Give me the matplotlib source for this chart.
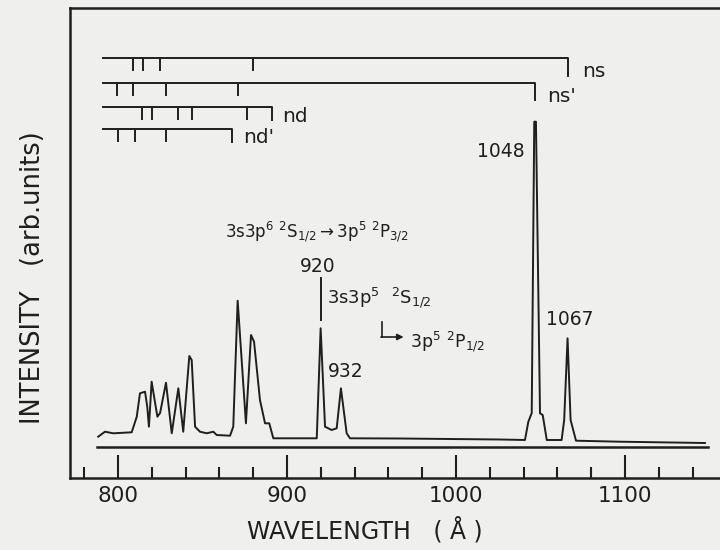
import numpy as np
import matplotlib.pyplot as plt

# spectrum trace (wavelength in A, intensity in arb. units)
wavelength = [788.3, 792.3, 797.2, 808.1, 811.1, 813.0, 816.0, 817.3, 818.3, 819.9,
              823.3, 824.9, 828.4, 831.8, 835.7, 838.6, 842.2, 843.6, 845.6, 848.5,
              852.5, 856.4, 858.4, 866.3, 868.2, 870.8, 875.7, 878.7, 880.5, 884.0,
              887.0, 889.5, 891.9, 917.6, 919.9, 922.5, 926.4, 929.4, 931.9, 935.3,
              937.3, 966.9, 996.4, 1026.0, 1040.8, 1042.8, 1044.8, 1046.3, 1047.3, 1049.7,
              1051.3, 1053.7, 1062.5, 1064.0, 1066.0, 1067.8, 1071.0, 1097.0, 1147.3]
intensity = [41.3, 46.3, 44.7, 45.7, 61.3, 84.7, 86.3, 71.3, 51.3, 96.3,
             61.3, 65.0, 95.3, 44.7, 89.7, 46.3, 122.0, 118.0, 51.3, 46.3,
             44.7, 46.3, 43.0, 42.3, 51.3, 177.3, 54.7, 143.0, 136.3, 78.0,
             54.7, 54.7, 39.7, 39.7, 149.7, 51.3, 48.0, 49.7, 89.7, 44.7,
             39.7, 39.5, 39.0, 38.5, 38.0, 56.3, 65.0, 356.3, 356.3, 64.7,
             63.0, 38.0, 38.0, 58.0, 139.7, 58.0, 37.3, 36.3, 35.0]
zero_level = 31
zero_range = [787.5, 1149.0]

# series line positions (A) drawn as level diagrams at the top
series_names = ["ns", "ns'", "nd", "nd'"]
series_lines = [[809.1, 815.0, 824.9, 880.1],
                [799.2, 809.1, 828.4, 870.8],
                [814.0, 819.9, 835.7, 843.6, 876.2],
                [800.2, 810.1, 828.4]]
series_limits = [1066.4, 1046.8, 890.9, 867.3]
series_start = 791.3

# labelled lines
peak_labels = ['1048', '1067', '920', '932']

INK = '#1f1f1f'
BG = '#efefed'

fig = plt.figure(figsize=(7.2, 5.5), dpi=100, facecolor=BG)
ax = fig.add_axes([70 / 720, 72 / 550, 650 / 720, 470 / 550], facecolor=BG)
ax.set_xlim(771.6, 1156.2)
ax.set_ylim(0, 470)

# spectrum and zero line
ax.plot(wavelength, intensity, color=INK, lw=1.4)
ax.plot(zero_range, [zero_level, zero_level], color=INK, lw=1.8)

# series level diagrams
levels = [419.7, 395.3, 371.3, 348.7]
tick_len = 12
limit_len = [18, 17, 13, 13]
label_pos = [(1074.6, 401.3), (1053.8, 376.3), (897.0, 356.3), (874.0, 335.0)]
for name, lines, limit, lev, ll, (tx, ty) in zip(series_names, series_lines, series_limits,
                                                   levels, limit_len, label_pos):
    ax.plot([series_start, limit, limit], [lev, lev, lev - ll], color=INK, lw=1.4)
    for w in lines:
        ax.plot([w, w], [lev, lev - tick_len], color=INK, lw=1.4)
    ax.text(tx, ty, name, fontsize=14.5, color=INK, ha='left', va='baseline')

# peak labels
ax.text(1040.8, 321, peak_labels[0], fontsize=13.5, color=INK, ha='right', va='baseline')
ax.text(1067.5, 153, peak_labels[1], fontsize=13.5, color=INK, ha='center', va='baseline')
ax.text(918.3, 206, peak_labels[2], fontsize=13.5, color=INK, ha='center', va='baseline')
ax.text(924.0, 101, peak_labels[3], fontsize=13.5, color=INK, ha='left', va='baseline')

# transition annotations
ax.plot([919.9, 919.9], [158, 200], color=INK, lw=1.4)
ax.text(863.3, 241, r'3s3p$^6$ $^2$S$_{1/2}$$\rightarrow$3p$^5$ $^2$P$_{3/2}$',
        fontsize=12, color=INK, ha='left', va='baseline')
ax.text(923.7, 175, r'3s3p$^5$  $^2$S$_{1/2}$',
        fontsize=13, color=INK, ha='left', va='baseline')
ax.text(972.8, 130, r'3p$^5$ $^2$P$_{1/2}$',
        fontsize=12.5, color=INK, ha='left', va='baseline')
ax.plot([956.2, 956.2], [156, 141], color=INK, lw=1.2)
ax.annotate('', xy=(969.0, 141), xytext=(955.6, 141),
            arrowprops=dict(arrowstyle='-|>', color=INK, lw=1.2, mutation_scale=9,
                            shrinkA=0, shrinkB=0))

# axes styling
for side in ['left', 'bottom', 'top']:
    ax.spines[side].set_linewidth(1.8)
    ax.spines[side].set_color(INK)
ax.spines['right'].set_visible(False)
ax.set_yticks([])
ax.set_xticks([800, 900, 1000, 1100])
ax.set_xticks(np.arange(780, 1150, 20), minor=True)
ax.tick_params(axis='x', which='major', direction='in', length=16.5, width=1.5,
               colors=INK, labelsize=15.5, pad=6)
ax.tick_params(axis='x', which='minor', direction='in', length=8, width=1.5, colors=INK)

fig.text(33 / 720, 1 - 277.5 / 550, 'INTENSITY   (arb.units)', rotation=90,
         ha='center', va='center', fontsize=18.5, color=INK)
fig.text(365 / 720, 1 - 539 / 550, 'WAVELENGTH   ( Å )', ha='center', va='baseline',
         fontsize=17, color=INK)

fig.savefig('out.png', dpi=100, facecolor=BG)
